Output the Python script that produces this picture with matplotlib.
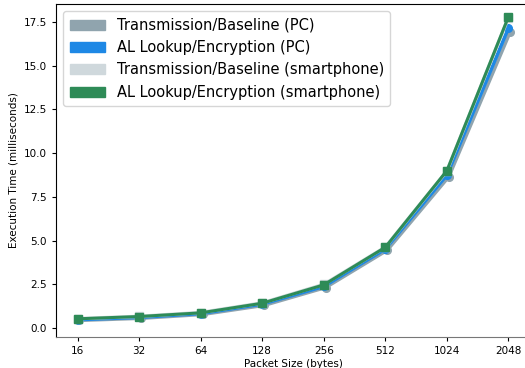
import numpy as np
import matplotlib
matplotlib.use("Agg")
import matplotlib.pyplot as plt
from matplotlib.patches import Patch

# packet sizes (bytes) and execution times (ms)
sizes = ["16", "32", "64", "128", "256", "512", "1024", "2048"]
base_pc = [0.44, 0.56, 0.78, 1.30, 2.32, 4.45, 8.65, 16.95]
al_pc = [0.48, 0.61, 0.83, 1.37, 2.38, 4.52, 8.75, 17.15]
base_phone = [0.54, 0.67, 0.89, 1.44, 2.50, 4.63, 8.98, 17.75]
al_phone = [0.53, 0.66, 0.87, 1.42, 2.47, 4.62, 9.00, 17.80]

labels = ["Transmission/Baseline (PC)", "AL Lookup/Encryption (PC)",
          "Transmission/Baseline (smartphone)", "AL Lookup/Encryption (smartphone)"]
colors = ["#90a4ae", "#1e88e5", "#cfd8dc", "#2e8b57"]

fig = plt.figure(figsize=(5.25, 3.68), dpi=100)
ax = fig.add_axes([56/525, 31/368, 474/525, 333/368])

x = np.arange(len(sizes))
ax.plot(x + 0.03, base_pc, '-o', color=colors[0], lw=2.5, ms=5.5)
ax.plot(x, al_pc, '-o', color=colors[1], lw=2.5, ms=5.5)
ax.plot(x, base_phone, '-s', color=colors[2], lw=2.5, ms=5.5)
ax.plot(x, al_phone, '-s', color=colors[3], lw=2.2, ms=5.5)

ax.set_xticks(x)
ax.set_xticklabels(sizes)
ax.set_xlim(-0.35, 7.35)
ax.set_ylim(-0.51, 18.53)
ax.set_yticks(np.arange(0, 17.6, 2.5))
ax.tick_params(labelsize=7.5, length=3)
ax.set_xlabel("Packet Size (bytes)", fontsize=7.5, labelpad=2)
ax.set_ylabel("Execution Time (milliseconds)", fontsize=7.5)
ax.spines['bottom'].set_color('#777777')
ax.spines['right'].set_visible(False)

handles = [Patch(color=c) for c in colors]
ax.legend(handles, labels, loc='upper left', fontsize=10.5, handlelength=2.4,
          labelspacing=0.5, borderpad=0.45, bbox_to_anchor=(0.0, 1.0))

fig.savefig("out.png", dpi=100)
